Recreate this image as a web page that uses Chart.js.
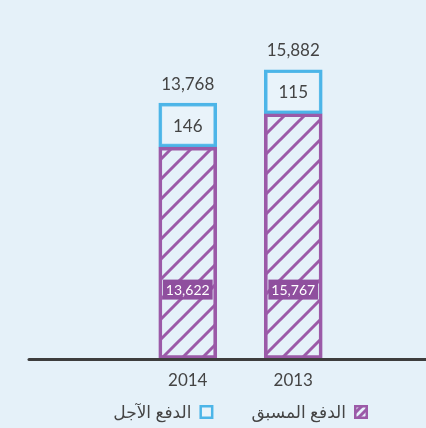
<!DOCTYPE html>
<html>
<head>
<meta charset="utf-8">
<script src="https://cdn.jsdelivr.net/npm/chart.js@4.4.1/dist/chart.umd.min.js"></script>
<style>
  html, body { margin: 0; padding: 0; background: #e5f1f9; }
  #wrap { width: 426px; height: 428px; }
</style>
</head>
<body>
<div id="wrap"><canvas id="barChart"></canvas></div>
<script>
// البيانات
const years = ['2014', '2013'];
const prepaid = [13622, 15767];
const postpaid = [146, 115];
const totals = [13768, 15882];
const seriesNames = ['الدفع المسبق', 'الدفع الآجل'];

const purple = '#9b5aa8';
const blue = '#4cb5e8';
const textColor = '#444444';
const fontFamily = "Lato, 'DejaVu Sans', sans-serif";

// نقش خطوط مائلة
function makeHatch(s) {
    const c = document.createElement('canvas');
    c.width = s;
    c.height = s;
    const g = c.getContext('2d');
    g.strokeStyle = purple;
    g.lineWidth = 3;
    g.beginPath();
    g.moveTo(0, s); g.lineTo(s, 0);
    g.moveTo(-5, 5); g.lineTo(5, -5);
    g.moveTo(s - 5, s + 5); g.lineTo(s + 5, s - 5);
    g.stroke();
    return g.createPattern(c, 'repeat');
}
const hatch = makeHatch(20);
const hatchSmall = makeHatch(8);

const fmt = v => v.toLocaleString('en-US');

// محور فارغ لحجز المساحة
const spacer = (pos, w) => ({
    position: pos,
    display: true,
    grid: { display: false },
    border: { display: false },
    ticks: { display: false },
    afterFit(scale) { scale.width = w; }
});

const labelsPlugin = {
    id: 'labelsPlugin',
    afterDatasetsDraw(chart) {
        const ctx = chart.ctx;
        const y0 = chart.scales.y.getPixelForValue(0);
        ctx.save();
        // خط المحور
        ctx.strokeStyle = '#3d3d3d';
        ctx.lineWidth = 3;
        ctx.lineCap = 'round';
        ctx.beginPath();
        ctx.moveTo(29, y0 + 1);
        ctx.lineTo(chart.width, y0 + 1);
        ctx.stroke();

        const m0 = chart.getDatasetMeta(0);
        const m1 = chart.getDatasetMeta(1);
        ctx.textAlign = 'center';
        ctx.textBaseline = 'middle';
        years.forEach((yr, i) => {
            const b0 = m0.data[i];
            const b1 = m1.data[i];
            // قيمة الدفع المسبق
            ctx.font = '14px ' + fontFamily;
            const t = fmt(prepaid[i]);
            const w = ctx.measureText(t).width + 6;
            const ly = b0.base - 69;
            ctx.fillStyle = '#8f4f9e';
            ctx.fillRect(b0.x - w / 2, ly - 10, w, 20);
            ctx.fillStyle = '#ffffff';
            ctx.fillText(t, b0.x, ly + 1);
            // قيمة الدفع الآجل
            ctx.font = '17px ' + fontFamily;
            ctx.fillStyle = textColor;
            ctx.fillText(fmt(postpaid[i]), b1.x, (b1.y + b1.base) / 2 + 1);
            // المجموع
            ctx.fillText(fmt(totals[i]), b1.x, b1.y - 19);
        });

        // وسيلة الإيضاح
        const items = [
            { text: seriesNames[0], fill: hatchSmall, stroke: purple },
            { text: seriesNames[1], fill: 'rgba(255,255,255,0.15)', stroke: blue }
        ];
        let x = 368;
        const ly = 412;
        ctx.font = '17px ' + fontFamily;
        ctx.textAlign = 'right';
        ctx.lineWidth = 2.5;
        ctx.lineCap = 'butt';
        items.forEach(it => {
            ctx.fillStyle = it.fill;
            ctx.fillRect(x - 14, ly - 7, 14, 14);
            ctx.strokeStyle = it.stroke;
            ctx.strokeRect(x - 14 + 1.25, ly - 7 + 1.25, 11.5, 11.5);
            x -= 14 + 8;
            ctx.fillStyle = textColor;
            ctx.fillText(it.text, x, ly + 1);
            x -= ctx.measureText(it.text).width + 38;
        });
        ctx.restore();
    }
};

const ctx = document.getElementById('barChart').getContext('2d');
const chart = new Chart(ctx, {
    type: 'bar',
    data: {
        labels: years,
        datasets: [
            {
                label: seriesNames[0],
                data: prepaid,
                backgroundColor: hatch,
                borderColor: purple,
                borderWidth: 3,
                borderSkipped: false,
                barThickness: 58,
                yAxisID: 'y'
            },
            {
                label: seriesNames[1],
                data: postpaid,
                backgroundColor: 'rgba(255,255,255,0.15)',
                borderColor: blue,
                borderWidth: 3,
                borderSkipped: false,
                barThickness: 58,
                minBarLength: 44,
                yAxisID: 'y'
            }
        ]
    },
    options: {
        responsive: true,
        maintainAspectRatio: false,
        animation: false,
        layout: { padding: { top: 48, left: 0, right: 0, bottom: 33 } },
        scales: {
            x: {
                stacked: true,
                grid: { display: false },
                border: { display: false },
                ticks: { color: textColor, font: { size: 17, family: fontFamily }, padding: 4 }
            },
            y: Object.assign(spacer('left', 135), { stacked: true, min: 0, max: 20000 }),
            yr: Object.assign(spacer('right', 80), { min: 0, max: 1 })
        },
        plugins: {
            legend: { display: false },
            tooltip: { enabled: false }
        }
    },
    plugins: [labelsPlugin]
});
</script>
</body>
</html>
